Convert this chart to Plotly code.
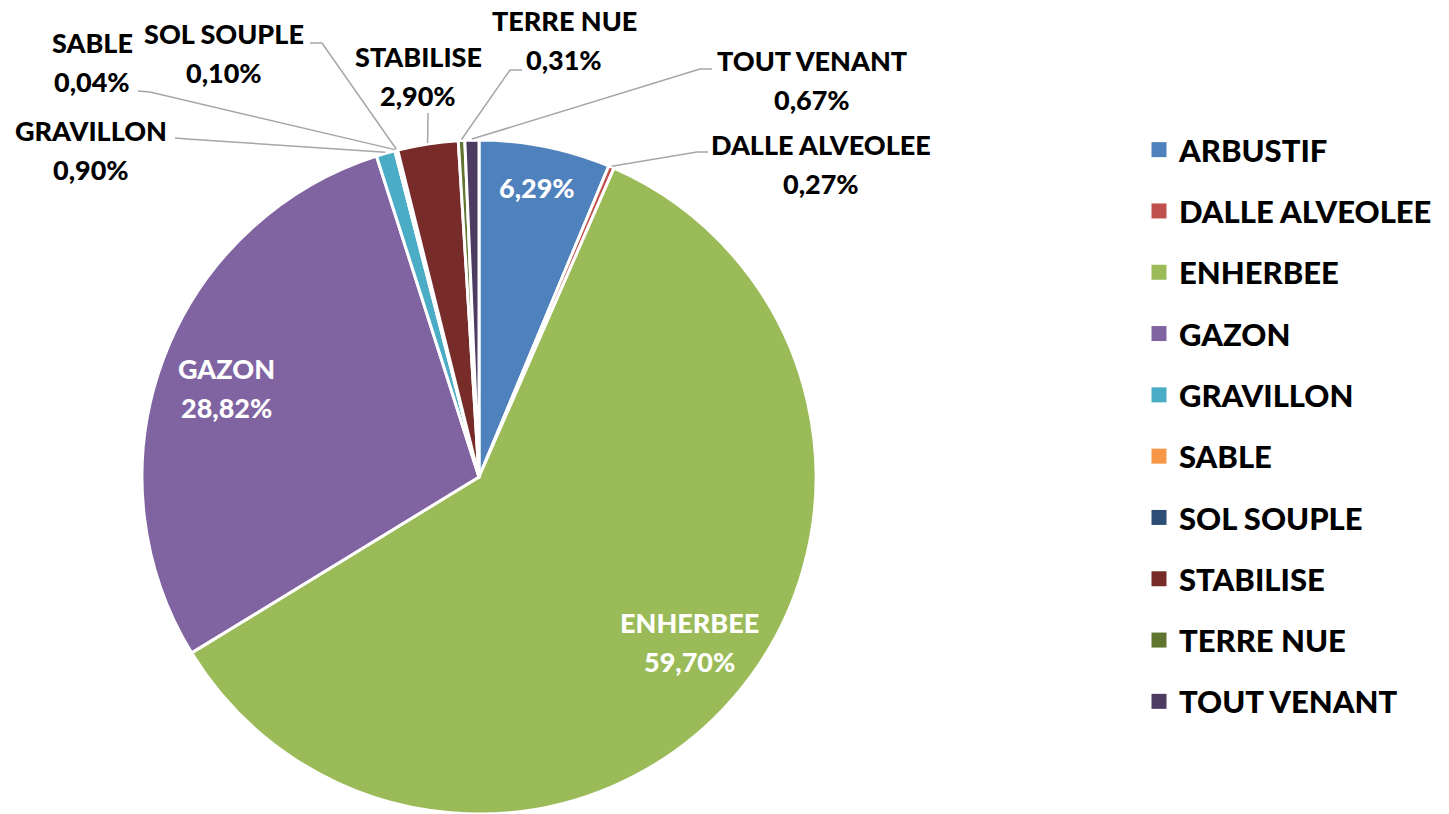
import math
import plotly.graph_objects as go

# Surface types and their share of the total area (%)
categories = ["ARBUSTIF", "DALLE ALVEOLEE", "ENHERBEE", "GAZON", "GRAVILLON",
              "SABLE", "SOL SOUPLE", "STABILISE", "TERRE NUE", "TOUT VENANT"]
shares = [6.29, 0.27, 59.70, 28.82, 0.90, 0.04, 0.10, 2.90, 0.31, 0.67]
colors = ["#4F81BD", "#C0504D", "#9BBB59", "#8064A2", "#4BACC6",
          "#F79646", "#2C4D75", "#772C2A", "#5F7530", "#4D3B62"]

W, H = 1449, 814
FONT = "Lato"
WEIGHT = 900

# Pie placement in pixels
CX, CY, R = 479, 477, 337

# Label styling: inside labels sit on the slice at a fraction of the radius
# (with a small angular shift in degrees), outside labels are placed around
# the pie with a grey leader line.
inside = {  # name -> (radius fraction, angle shift, show category name)
    "ARBUSTIF": (0.875, 0.0, False),
    "ENHERBEE": (0.795, -3.0, True),
    "GAZON": (0.795, -1.0, True),
}
outside = {  # name -> (label centre x, label centre y, leader path points)
    "DALLE ALVEOLEE": (821, 164, [(708, 152), (697, 152)]),
    "GRAVILLON": (91, 150, [(175, 138), (187, 139)]),
    "SABLE": (92, 62, [(138, 91), (150, 92)]),
    "SOL SOUPLE": (224, 53, [(310, 43), (322, 43)]),
    "STABILISE": (418, 76, [(428, 113)]),
    "TERRE NUE": (564, 40, [(522, 70), (510, 70)]),
    "TOUT VENANT": (812, 80, [(712, 69), (700, 69)]),
}
LINE_GAP = 39
LABEL_SIZE = 27
LEGEND_SIZE = 31


def fmt(v):
    return f"{v:.2f}".replace(".", ",") + "%"


def px(x, y):
    return x / W, 1 - y / H


fig = go.Figure()
fig.add_trace(go.Pie(
    labels=categories,
    values=shares,
    sort=False,
    direction="clockwise",
    rotation=0,
    marker=dict(colors=colors, line=dict(color="white", width=3)),
    textinfo="none",
    hoverinfo="label+percent",
    showlegend=False,
    domain=dict(x=[(CX - R) / W, (CX + R) / W],
                y=[(H - CY - R) / H, (H - CY + R) / H]),
))

# Legend entries, one per surface type
for name, col in zip(categories, colors):
    fig.add_trace(go.Scatter(
        x=[None], y=[None], mode="markers", name=name, legendgroup=name,
        marker=dict(symbol="square", size=15, color=col),
    ))

total = sum(shares)
annotations = []
shapes = []
cum = 0.0
for name, v in zip(categories, shares):
    mid = (cum + v / 2) / total * 2 * math.pi
    cum += v
    if name in inside:
        f, shift, show_name = inside[name]
        a = mid + math.radians(shift)
        lx, ly = CX + R * f * math.sin(a), CY - R * f * math.cos(a)
        lines = [name, fmt(v)] if show_name else [fmt(v)]
        color = "white"
    else:
        lx, ly, pts = outside[name]
        lines = [name, fmt(v)]
        color = "black"
        ex, ey = CX + (R + 1) * math.sin(mid), CY - (R + 1) * math.cos(mid)
        path_pts = pts + [(ex, ey)]
        d = "M " + " L ".join(f"{px(a, b)[0]:.5f},{px(a, b)[1]:.5f}"
                               for a, b in path_pts)
        shapes.append(dict(type="path", xref="paper", yref="paper", path=d,
                           line=dict(color="#A6A6A6", width=1.5)))
    n = len(lines)
    for i, t in enumerate(lines):
        yy = ly + (i - (n - 1) / 2) * LINE_GAP
        x0, y0 = px(lx, yy)
        annotations.append(dict(
            x=x0, y=y0, xref="paper", yref="paper", text=t, showarrow=False,
            xanchor="center", yanchor="middle",
            font=dict(family=FONT, size=LABEL_SIZE, color=color, weight=WEIGHT),
        ))

fig.update_layout(
    width=W, height=H,
    margin=dict(l=0, r=0, t=0, b=0),
    paper_bgcolor="white", plot_bgcolor="white",
    xaxis=dict(visible=False), yaxis=dict(visible=False),
    annotations=annotations,
    shapes=shapes,
    legend=dict(
        x=1139 / W, xanchor="left", y=1 - 123 / H, yanchor="top",
        traceorder="grouped", tracegroupgap=18,
        font=dict(family=FONT, size=LEGEND_SIZE, color="black", weight=WEIGHT),
        bgcolor="rgba(0,0,0,0)",
    ),
)

fig.write_html("out.html")
